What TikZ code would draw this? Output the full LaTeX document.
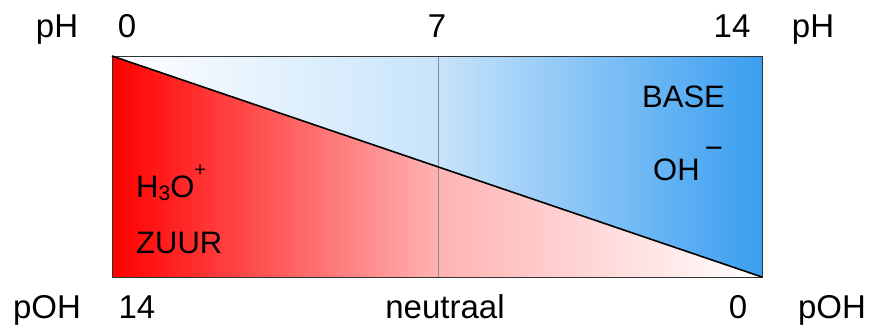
\documentclass[tikz,border=0pt]{standalone}
\usepackage{fontspec}
\setmainfont{Liberation Sans}
\definecolor{baseblue}{RGB}{58,158,240}
\definecolor{acidred}{RGB}{255,0,0}
\tikzset{
  axislabel/.style={font=\fontsize{33}{33}\selectfont, inner sep=0pt, anchor=base},
  innerlabel/.style={font=\fontsize{31}{31}\selectfont, inner sep=0pt, anchor=base west},
  frame/.style={draw=black!80, line width=1pt},
  diag/.style={draw=black, line width=1.6pt},
  midline/.style={draw=black!45, line width=0.7pt}
}
\begin{document}
\begin{tikzpicture}[x=1pt,y=-1pt]
\useasboundingbox (0,0) rectangle (870,327);
\coordinate (tl) at (112,56);
\coordinate (tr) at (762,56);
\coordinate (br) at (762,277);
\coordinate (bl) at (112,277);
\coordinate (mt) at (438,56);
\coordinate (mb) at (438,277);
% shaded triangles
\shade[left color=acidred, right color=white, middle color=acidred!30!white] (tl) -- (br) -- (bl) -- cycle;
\shade[left color=white, right color=baseblue, middle color=baseblue!28!white] (tl) -- (tr) -- (br) -- cycle;
% neutral line
\draw[midline] (mt) -- (mb);
% frame and diagonal
\draw[frame] (tl) rectangle (br);
\draw[diag] (tl) -- (br);
% top labels
\node[axislabel] (phL) at (57,37) {pH};
\node[axislabel] (ph0) at (127,37) {0};
\node[axislabel] (ph7) at (437,37) {7};
\node[axislabel] (ph14) at (732,37) {14};
\node[axislabel] (phR) at (813,37) {pH};
% bottom labels
\node[axislabel] (pohL) at (47,318) {pOH};
\node[axislabel] (poh14) at (137,318) {14};
\node[axislabel] (neutral) at (445,318) {neutraal};
\node[axislabel] (poh0) at (738,318) {0};
\node[axislabel] (pohR) at (832,318) {pOH};
% inner labels
\node[innerlabel] (h3o) at (136,197) {H\raisebox{-3pt}{\fontsize{21}{21}\selectfont 3}O\raisebox{21pt}{\fontsize{20}{20}\selectfont +}};
\node[innerlabel] (zuur) at (136,253) {ZUUR};
\node[innerlabel] (base) at (642,107) {BASE};
\node[innerlabel] (oh) at (653,180) {OH\,\raisebox{22pt}{−}};
\end{tikzpicture}
\end{document}
